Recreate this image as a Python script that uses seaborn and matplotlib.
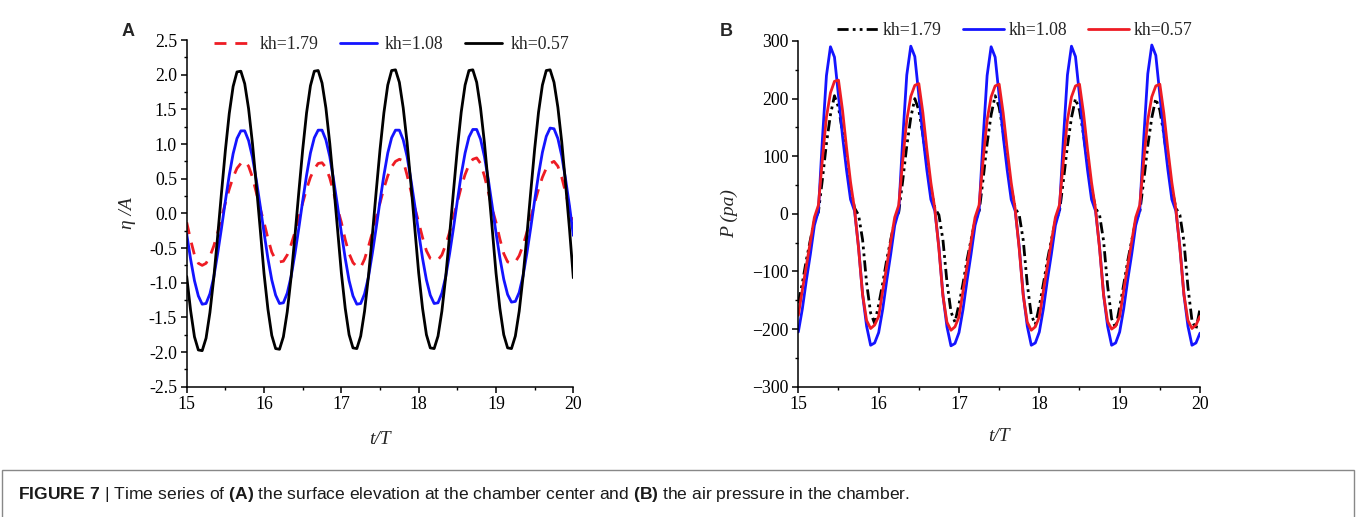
import matplotlib
matplotlib.use("Agg")
import matplotlib.pyplot as plt
import numpy as np
import seaborn as sns
from matplotlib.patches import Rectangle
from matplotlib.ticker import MultipleLocator, FuncFormatter

# time axis t/T, sampled every 0.05 from 15 to 20
t = np.linspace(15, 20, 101)

# (A) surface elevation eta/A
eta_kh179 = [
    -0.13, -0.38, -0.60, -0.72, -0.75, -0.72, -0.62, -0.47, -0.28, -0.06,
    0.15, 0.35, 0.52, 0.65, 0.72, 0.75, 0.68, 0.52, 0.30, 0.07,
    -0.13, -0.36, -0.56, -0.67, -0.70, -0.69, -0.60, -0.45, -0.27, -0.06,
    0.15, 0.35, 0.52, 0.64, 0.72, 0.73, 0.66, 0.51, 0.30, 0.07,
    -0.13, -0.38, -0.58, -0.71, -0.77, -0.78, -0.66, -0.48, -0.28, -0.06,
    0.15, 0.36, 0.54, 0.67, 0.75, 0.78, 0.76, 0.55, 0.32, 0.08,
    -0.13, -0.35, -0.54, -0.65, -0.67, -0.67, -0.60, -0.45, -0.27, -0.05,
    0.16, 0.38, 0.56, 0.70, 0.78, 0.80, 0.72, 0.54, 0.31, 0.07,
    -0.13, -0.37, -0.58, -0.70, -0.72, -0.70, -0.61, -0.46, -0.27, -0.06,
    0.15, 0.35, 0.52, 0.65, 0.72, 0.75, 0.68, 0.52, 0.30, 0.07,
    -0.10,
]
eta_kh108 = [
    -0.30, -0.66, -0.97, -1.19, -1.31, -1.30, -1.16, -0.92, -0.58, -0.21,
    0.18, 0.55, 0.86, 1.08, 1.19, 1.19, 1.05, 0.81, 0.48, 0.11,
    -0.28, -0.65, -0.96, -1.18, -1.30, -1.29, -1.15, -0.91, -0.58, -0.21,
    0.18, 0.55, 0.87, 1.09, 1.20, 1.20, 1.06, 0.82, 0.48, 0.11,
    -0.28, -0.65, -0.97, -1.19, -1.31, -1.30, -1.16, -0.92, -0.58, -0.21,
    0.18, 0.55, 0.87, 1.09, 1.20, 1.20, 1.06, 0.82, 0.48, 0.11,
    -0.28, -0.65, -0.96, -1.18, -1.30, -1.29, -1.15, -0.91, -0.58, -0.21,
    0.18, 0.56, 0.87, 1.10, 1.21, 1.21, 1.07, 0.82, 0.49, 0.11,
    -0.28, -0.64, -0.95, -1.17, -1.28, -1.27, -1.14, -0.90, -0.57, -0.20,
    0.19, 0.56, 0.88, 1.11, 1.23, 1.22, 1.08, 0.83, 0.49, 0.11,
    -0.32,
]
eta_kh057 = [
    -0.91, -1.40, -1.78, -1.97, -1.98, -1.80, -1.43, -0.93, -0.33, 0.30,
    0.91, 1.44, 1.83, 2.04, 2.05, 1.87, 1.51, 1.01, 0.41, -0.22,
    -0.87, -1.38, -1.76, -1.95, -1.96, -1.78, -1.42, -0.92, -0.32, 0.31,
    0.92, 1.45, 1.84, 2.05, 2.06, 1.88, 1.52, 1.01, 0.41, -0.22,
    -0.86, -1.37, -1.75, -1.94, -1.95, -1.77, -1.41, -0.91, -0.32, 0.31,
    0.92, 1.45, 1.85, 2.06, 2.07, 1.89, 1.52, 1.02, 0.42, -0.22,
    -0.86, -1.37, -1.75, -1.94, -1.95, -1.77, -1.41, -0.91, -0.31, 0.32,
    0.93, 1.46, 1.85, 2.06, 2.07, 1.89, 1.52, 1.02, 0.42, -0.21,
    -0.86, -1.37, -1.75, -1.94, -1.95, -1.77, -1.41, -0.91, -0.31, 0.32,
    0.93, 1.46, 1.85, 2.06, 2.07, 1.89, 1.53, 1.03, 0.42, -0.22,
    -0.93,
]

# (B) air pressure P (pa)
p_kh179 = [
    -155, -120, -80, -45, -12, 3, 60, 122, 172, 205,
    185, 142, 90, 45, 10, -2, -45, -120, -172, -190,
    -158, -121, -80, -45, -12, 3, 58, 118, 167, 200,
    180, 138, 88, 44, 10, -2, -45, -118, -170, -188,
    -157, -121, -80, -45, -12, 3, 60, 122, 172, 205,
    185, 142, 90, 45, 10, -2, -46, -122, -176, -192,
    -160, -122, -81, -45, -12, 3, 58, 118, 167, 200,
    180, 138, 88, 44, 10, -2, -47, -125, -182, -198,
    -162, -123, -82, -46, -12, 3, 58, 118, 167, 200,
    180, 138, 88, 44, 10, -2, -48, -127, -185, -200,
    -165,
]
p_kh108 = [
    -205, -165, -115, -70, -20, 5, 130, 240, 290, 272,
    205, 135, 76, 25, 5, -58, -140, -195, -228, -224,
    -206, -166, -116, -70, -20, 5, 131, 241, 291, 273,
    206, 136, 76, 25, 5, -58, -141, -196, -229, -225,
    -206, -166, -116, -70, -20, 5, 130, 240, 290, 272,
    205, 135, 76, 25, 5, -58, -140, -195, -228, -224,
    -205, -165, -115, -70, -20, 5, 131, 241, 291, 273,
    206, 136, 76, 25, 5, -58, -140, -195, -228, -224,
    -205, -165, -115, -70, -20, 5, 132, 243, 293, 275,
    207, 137, 77, 25, 5, -58, -140, -195, -228, -224,
    -207,
]
p_kh057 = [
    -176, -132, -90, -48, -6, 15, 95, 168, 210, 230,
    232, 180, 115, 55, 8, -60, -140, -185, -199, -193,
    -178, -134, -91, -48, -6, 15, 93, 163, 204, 223,
    226, 176, 112, 54, 8, -61, -142, -188, -202, -196,
    -179, -134, -91, -48, -6, 15, 93, 163, 203, 222,
    225, 175, 112, 54, 8, -61, -142, -188, -202, -196,
    -179, -134, -91, -48, -6, 15, 93, 163, 203, 222,
    225, 175, 112, 54, 8, -60, -141, -187, -200, -195,
    -178, -133, -90, -48, -6, 15, 93, 163, 203, 222,
    225, 175, 112, 54, 8, -60, -140, -185, -199, -193,
    -178,
]

sns.set_style("ticks")
plt.rcParams["font.family"] = ["Liberation Serif", "DejaVu Serif"]
plt.rcParams["mathtext.fontset"] = "custom"
plt.rcParams["mathtext.rm"] = "Liberation Sans"
plt.rcParams["mathtext.bf"] = "Liberation Sans:bold"

RED = "#ee1c24"
BLUE = "#1414ff"
TICK_FS = 12.8
LW = 2.0

fig = plt.figure(figsize=(13.57, 5.17), dpi=100)
axA = fig.add_axes([0.1376, 0.252, 0.2849, 0.6706])
axB = fig.add_axes([0.5883, 0.252, 0.2960, 0.6687])

# panel A
sns.lineplot(x=t, y=eta_kh179, ax=axA, color=RED, linewidth=LW,
             linestyle=(0, (4.3, 3.2)), label="kh=1.79")
sns.lineplot(x=t, y=eta_kh108, ax=axA, color=BLUE, linewidth=LW, label="kh=1.08")
sns.lineplot(x=t, y=eta_kh057, ax=axA, color="black", linewidth=LW, label="kh=0.57")

# panel B
sns.lineplot(x=t, y=p_kh179, ax=axB, color="black", linewidth=LW,
             linestyle=(0, (4, 1.5, 1, 1.5, 1, 1.5)), label="kh=1.79")
sns.lineplot(x=t, y=p_kh108, ax=axB, color=BLUE, linewidth=LW, label="kh=1.08")
sns.lineplot(x=t, y=p_kh057, ax=axB, color=RED, linewidth=LW, label="kh=0.57")

for ax in (axA, axB):
    sns.despine(ax=ax)
    ax.set_xlim(15, 20)
    ax.xaxis.set_major_locator(MultipleLocator(1))
    ax.xaxis.set_minor_locator(MultipleLocator(0.5))
    for s in ("left", "bottom"):
        ax.spines[s].set_linewidth(1.1)
        ax.spines[s].set_color("black")
    ax.tick_params(which="major", direction="out", length=4, width=1.1,
                   labelsize=TICK_FS, colors="black", pad=3)
    ax.tick_params(which="minor", direction="out", length=2.5, width=1.0, colors="black")
    ax.set_xlabel("t/T", fontstyle="italic", fontsize=14)

axA.xaxis.set_label_coords(0.5, -0.128)
axB.xaxis.set_label_coords(0.5, -0.120)

axA.set_ylim(-2.5, 2.5)
axA.yaxis.set_major_locator(MultipleLocator(0.5))
axA.yaxis.set_minor_locator(MultipleLocator(0.25))
axA.yaxis.set_major_formatter(FuncFormatter(lambda v, p: f"{v:.1f}"))
axA.set_ylabel("η /A", fontstyle="italic", fontsize=14)
axA.yaxis.set_label_coords(-0.131, 0.5)

axB.set_ylim(-300, 300)
axB.yaxis.set_major_locator(MultipleLocator(100))
axB.yaxis.set_minor_locator(MultipleLocator(50))
axB.yaxis.set_major_formatter(FuncFormatter(lambda v, p: f"{v:.0f}".replace("-", "\u2212")))
axB.set_ylabel("P (pa)", fontstyle="italic", fontsize=14)
axB.yaxis.set_label_coords(-0.150, 0.5)

axA.legend(loc="center", bbox_to_anchor=(0.53, 0.986), ncol=3, frameon=False,
           handlelength=2.1, handletextpad=0.45, columnspacing=1.2, fontsize=TICK_FS,
           borderaxespad=0)
axB.legend(loc="center", bbox_to_anchor=(0.539, 1.029), ncol=3, frameon=False,
           handlelength=2.3, handletextpad=0.25, columnspacing=1.2, fontsize=TICK_FS,
           borderaxespad=0)

fig.text(122 / 1357, 1 - 32 / 517, "A", family=["Liberation Sans", "DejaVu Sans"],
         fontweight="bold", fontsize=13, va="center")
fig.text(720 / 1357, 1 - 32 / 517, "B", family=["Liberation Sans", "DejaVu Sans"],
         fontweight="bold", fontsize=13, va="center")

caption = (r"$\mathbf{FIGURE\ 7}$ | Time series of $\mathbf{(A)}$ the surface elevation "
           r"at the chamber center and $\mathbf{(B)}$ the air pressure in the chamber.")
fig.text(18 / 1357, 1 - 495 / 517, caption, family=["Liberation Sans", "DejaVu Sans"],
         fontsize=12.6, va="center", color="#1a1a1a", math_fontfamily="custom")
fig.patches.append(Rectangle((2 / 1357, -0.05), 1352 / 1357, (517 - 470) / 517 + 0.05,
                             transform=fig.transFigure, fill=False,
                             edgecolor="#888888", linewidth=1))

fig.savefig("out.png", dpi=100)
